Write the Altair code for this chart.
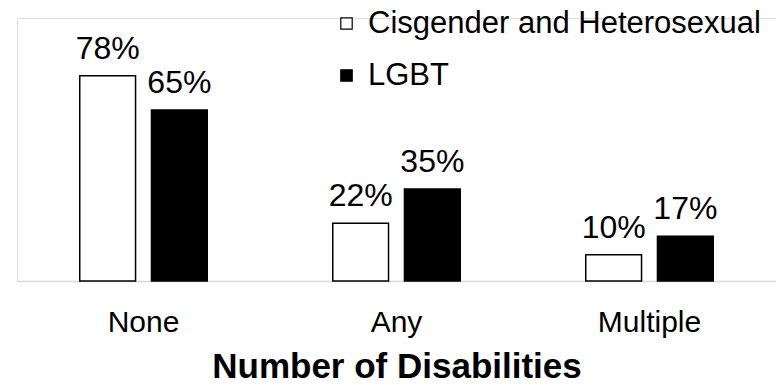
import altair as alt
import pandas as pd

categories = ["None", "Any", "Multiple"]
groups = ["Cisgender and Heterosexual", "LGBT"]
cis_values = [78, 22, 10]
lgbt_values = [65, 35, 17]

rows = []
for c, v in zip(categories, cis_values):
    rows.append({"category": c, "group": groups[0], "value": v, "label": f"{v}%"})
for c, v in zip(categories, lgbt_values):
    rows.append({"category": c, "group": groups[1], "value": v, "label": f"{v}%"})
df = pd.DataFrame(rows)

FONT = "Liberation Sans"

x = alt.X(
    "category:N",
    sort=categories,
    scale=alt.Scale(paddingInner=0, paddingOuter=0),
    axis=alt.Axis(
        title="Number of Disabilities",
        titleFont=FONT,
        titleFontSize=35,
        titleFontWeight="bold",
        titleColor="black",
        titleBaseline="alphabetic",
        titleY=96,
        labelFont=FONT,
        labelFontSize=30,
        labelColor="black",
        labelBaseline="alphabetic",
        labelPadding=50,
        labelAngle=0,
        ticks=False,
        tickSize=0,
        domainColor="#d9d9d9",
        domainWidth=1.5,
        grid=False,
    ),
)
xoff = alt.XOffset(
    "group:N",
    sort=groups,
    scale=alt.Scale(paddingInner=0.222, paddingOuter=0.875),
)
y = alt.Y(
    "value:Q",
    scale=alt.Scale(domain=[0, 100], nice=False),
    axis=None,
)

bars = alt.Chart(df).mark_bar(strokeWidth=1.5, stroke="black").encode(
    x=x,
    xOffset=xoff,
    y=y,
    fill=alt.Fill(
        "group:N",
        sort=groups,
        scale=alt.Scale(domain=groups, range=["white", "black"]),
        legend=alt.Legend(
            title=None,
            orient="none",
            legendX=314,
            legendY=-10,
            padding=0,
            symbolType="square",
            symbolSize=130,
            symbolStrokeColor="black",
            symbolStrokeWidth=1.2,
            labelFont=FONT,
            labelFontSize=31,
            labelColor="black",
            labelOffset=6,
            labelLimit=600,
            rowPadding=20,
        ),
    ),
)

texts = alt.Chart(df).mark_text(
    font=FONT, fontSize=32, color="black", baseline="alphabetic", dy=-17
).encode(
    x=alt.X("category:N", sort=categories),
    xOffset=alt.XOffset("group:N", sort=groups),
    y=alt.Y("value:Q"),
    text="label:N",
)

chart = (
    alt.layer(bars, texts)
    .properties(
        width=759,
        height=263,
        autosize=alt.AutoSizeParams(type="none"),
        padding={"left": 17, "top": 18, "right": 0, "bottom": 104},
    )
    .configure_view(stroke=None)
    .configure(background="white")
)

chart.save("out.html", embed_options={"renderer": "svg", "actions": False})
